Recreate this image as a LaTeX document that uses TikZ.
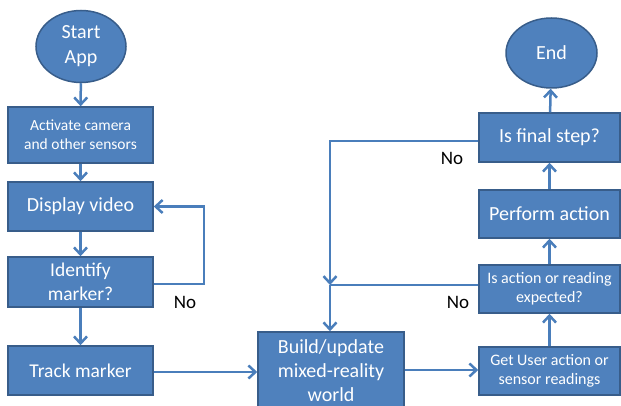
\documentclass[tikz,border=0pt]{standalone}
\usepackage{fontspec}
\setmainfont{Carlito}
\usetikzlibrary{shapes.geometric,arrows.meta}
\definecolor{boxfill}{HTML}{4F81BD}
\definecolor{boxline}{HTML}{385D8A}
\definecolor{conn}{HTML}{4A7EBB}
\tikzset{
  procbox/.style={rectangle, fill=boxfill, draw=boxline, line width=1.5pt, text=white, align=center, minimum width=145pt, inner sep=1pt},
  termnode/.style={ellipse, fill=boxfill, draw=boxline, line width=1.5pt, text=white, align=center, inner sep=0pt},
  conline/.style={draw=conn, line width=2.5pt},
  conarrow/.style={conline, -{Straight Barb[length=7pt,width=13pt,line width=2.5pt]}},
  nolabel/.style={text=black, font=\fontsize{19}{21}\selectfont}
}
\begin{document}
\begin{tikzpicture}[x=1pt,y=-1pt]
\useasboundingbox (0,0) rectangle (621,406);
\node[termnode, minimum width=90pt, minimum height=72pt, font=\fontsize{20}{25}\selectfont] (start) at (81,46.5) {Start\\App};
\node[procbox, minimum height=56pt, font=\fontsize{15.5}{19}\selectfont] (activate) at (80.5,135) {Activate camera\\and other sensors};
\node[procbox, minimum height=49pt, font=\fontsize{20}{22}\selectfont] (display) at (80.5,206.5) {Display video};
\node[procbox, minimum height=50pt, font=\fontsize{19.5}{24}\selectfont] (identify) at (80.5,282) {Identify\\marker?};
\node[procbox, minimum height=49pt, font=\fontsize{19.5}{22}\selectfont] (track) at (80.5,370.5) {Track marker};
\node[procbox, minimum width=146pt, minimum height=78pt, font=\fontsize{20}{24}\selectfont] (build) at (331,371) {Build/update\\mixed-reality\\world};
\node[procbox, minimum width=141pt, minimum height=48pt, font=\fontsize{16}{19}\selectfont] (getuser) at (549.5,371) {Get User action or\\sensor readings};
\node[procbox, minimum width=141pt, minimum height=48pt, font=\fontsize{16}{19}\selectfont] (isaction) at (549.5,289) {Is action or reading\\expected?};
\node[procbox, minimum width=141pt, minimum height=48pt, font=\fontsize{20}{22}\selectfont] (perform) at (549.5,214) {Perform action};
\node[procbox, minimum width=141pt, minimum height=49pt, font=\fontsize{20}{22}\selectfont] (isfinal) at (549.5,137.5) {Is final step?};
\node[termnode, minimum width=91pt, minimum height=70pt, font=\fontsize{20}{22}\selectfont] (end) at (551.5,53) {End};
\coordinate (loopR) at (204,284);
\coordinate (junc) at (330,285);
\node[nolabel] (no1) at (185,302) {No};
\node[nolabel] (no2) at (458,302) {No};
\node[nolabel] (no3) at (452,158) {No};
\draw[conarrow] (start) -- (activate);
\draw[conarrow] (activate) -- (display);
\draw[conarrow] (display) -- (identify);
\draw[conarrow] (identify) -- (track);
\draw[conarrow] (identify.east |- loopR) -- (loopR) |- (display.east);
\draw[conarrow] (track.east |- 0,372) -- (build.west |- 0,372);
\draw[conarrow] (build.east |- 0,370) -- (getuser.west |- 0,370);
\draw[conarrow] (getuser) -- (isaction);
\draw[conarrow] (isaction) -- (perform);
\draw[conarrow] (perform) -- (isfinal);
\draw[conarrow] (isfinal) -- (end);
\draw[conarrow] (isfinal.west |- 0,141) -| (junc);
\draw[conline] (isaction.west |- junc) -- (junc);
\draw[conarrow] (junc) -- (junc |- build.north);
\end{tikzpicture}
\end{document}
